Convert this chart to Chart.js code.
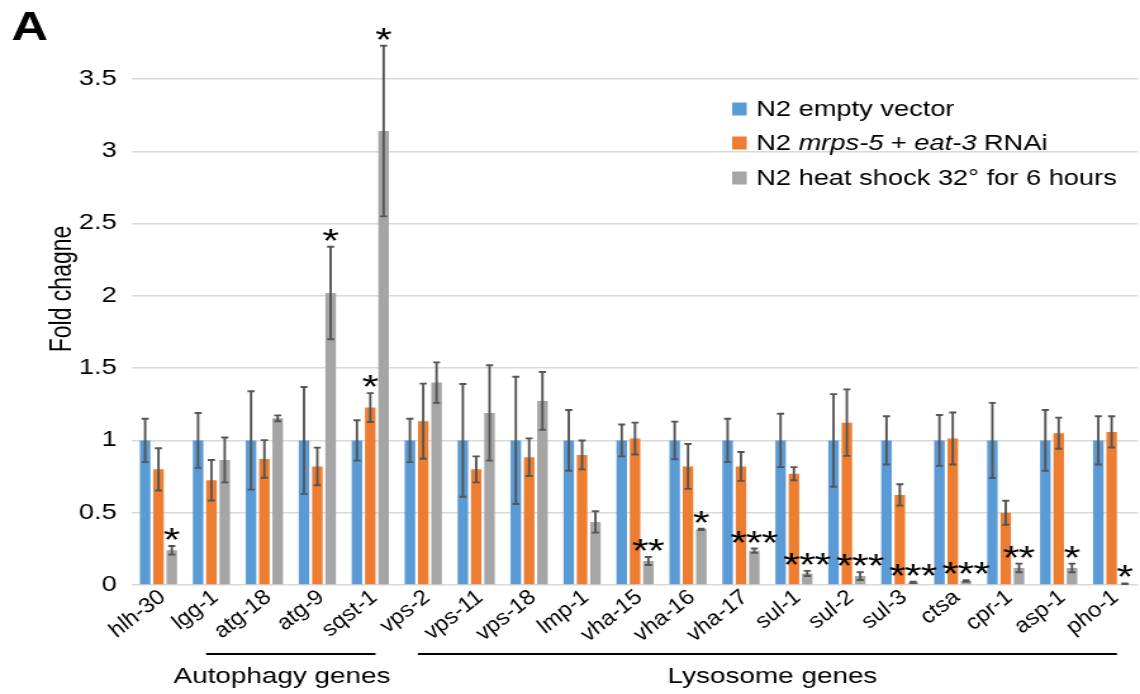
<!DOCTYPE html>
<html>
<head>
<meta charset="utf-8">
<script src="https://cdn.jsdelivr.net/npm/chart.js@4/dist/chart.umd.min.js"></script>
<style>
  html, body { margin: 0; padding: 0; background: #ffffff; }
</style>
</head>
<body>
<canvas id="c" width="900" height="694" style="display:block;width:1140px;height:694px"></canvas>
<script>
// ---- data ----
const genes = ['hlh-30','lgg-1','atg-18','atg-9','sqst-1','vps-2','vps-11','vps-18','lmp-1','vha-15','vha-16','vha-17','sul-1','sul-2','sul-3','ctsa','cpr-1','asp-1','pho-1'];
const seriesNames = ['N2 empty vector', 'N2 mrps-5 + eat-3 RNAi', 'N2 heat shock 32° for 6 hours'];
const emptyVector = [1,1,1,1,1,1,1,1,1,1,1,1,1,1,1,1,1,1,1];
const emptyVectorErr = [0.15,0.19,0.34,0.37,0.14,0.15,0.39,0.44,0.21,0.11,0.13,0.15,0.185,0.32,0.167,0.176,0.26,0.21,0.167];
const rnai = [0.80,0.725,0.872,0.82,1.227,1.133,0.80,0.884,0.90,1.013,0.82,0.82,0.77,1.123,0.623,1.013,0.50,1.05,1.059];
const rnaiErr = [0.146,0.14,0.13,0.13,0.10,0.26,0.09,0.13,0.10,0.11,0.155,0.10,0.045,0.23,0.074,0.18,0.083,0.108,0.108];
const heatShock = [0.24,0.865,1.153,2.02,3.14,1.40,1.19,1.273,0.436,0.166,0.385,0.237,0.08,0.062,0.018,0.028,0.118,0.118,0.009];
const heatShockErr = [0.03,0.155,0.02,0.32,0.59,0.14,0.33,0.20,0.074,0.028,0.005,0.015,0.018,0.027,0.005,0.006,0.03,0.03,0.002];
const emptyStars = ['','','','','','','','','','','','','','','','','','',''];
const rnaiStars = ['','','','','*','','','','','','','','','','','','','',''];
const heatStars = ['*','','','*','*','','','','','**','*','***','***','***','***','***','**','*','*'];
const yTicks = [0,0.5,1,1.5,2,2.5,3,3.5];
const groups = [
  {label: 'Autophagy genes', from: 'lgg-1', to: 'sqst-1'},
  {label: 'Lysosome genes', from: 'vps-2', to: 'pho-1'}
];

const colors = ['#5B9BD5', '#ED7D31', '#A5A5A5'];
const FONT = '"Liberation Sans", Arial, Helvetica, sans-serif';
const errs = [emptyVectorErr, rnaiErr, heatShockErr];
const stars = [emptyStars, rnaiStars, heatStars];

const overlay = {
  id: 'overlay',
  afterDatasetsDraw(chart) {
    const ctx = chart.ctx;
    const ys = chart.scales.y;
    ctx.save();
    // error bars
    ctx.strokeStyle = '#555555';
    ctx.lineWidth = 1.9;
    chart.data.datasets.forEach((ds, i) => {
      const meta = chart.getDatasetMeta(i);
      meta.data.forEach((bar, j) => {
        const v = ds.data[j], e = errs[i][j];
        const yt = ys.getPixelForValue(v + e);
        const yb = ys.getPixelForValue(Math.max(0, v - e));
        const x = bar.x, hw = 2.8;
        ctx.beginPath();
        ctx.moveTo(x, yt); ctx.lineTo(x, yb);
        ctx.moveTo(x - hw, yt); ctx.lineTo(x + hw, yt);
        ctx.moveTo(x - hw, yb); ctx.lineTo(x + hw, yb);
        ctx.stroke();
      });
    });
    // significance stars
    ctx.fillStyle = '#000';
    ctx.font = '34px ' + FONT;
    ctx.textAlign = 'center';
    ctx.textBaseline = 'alphabetic';
    chart.data.datasets.forEach((ds, i) => {
      const meta = chart.getDatasetMeta(i);
      meta.data.forEach((bar, j) => {
        const s = stars[i][j];
        if (!s) return;
        const yt = ys.getPixelForValue(ds.data[j] + errs[i][j]);
        const n = s.length, step = 12.4;
        for (let k = 0; k < n; k++) {
          const x = bar.x + (k - (n - 1) / 2) * step;
          ctx.fillText('*', x, yt + 5);
        }
      });
    });
    ctx.restore();
  },
  afterDraw(chart) {
    const ctx = chart.ctx;
    const xs = chart.scales.x;
    ctx.save();
    ctx.fillStyle = '#000';
    // panel letter
    ctx.font = 'bold 40px ' + FONT;
    ctx.textAlign = 'left';
    ctx.textBaseline = 'alphabetic';
    ctx.fillText('A', 9, 40);
    // y axis title
    ctx.save();
    ctx.translate(50, 289);
    ctx.rotate(-Math.PI / 2);
    ctx.font = '23px ' + FONT;
    ctx.textAlign = 'center';
    ctx.textBaseline = 'middle';
    ctx.fillText('Fold chagne', 0, 0);
    ctx.restore();
    // group brackets
    const cw = xs.getPixelForValue(1) - xs.getPixelForValue(0);
    ctx.strokeStyle = '#000';
    ctx.lineWidth = 2;
    ctx.font = '22px ' + FONT;
    ctx.textAlign = 'center';
    groups.forEach((g, k) => {
      const a = xs.getPixelForValue(genes.indexOf(g.from));
      const b = xs.getPixelForValue(genes.indexOf(g.to));
      const x1 = a - cw * 0.10, x2 = b + cw * 0.10;
      ctx.beginPath();
      ctx.moveTo(x1, 654); ctx.lineTo(x2, 654);
      ctx.stroke();
      ctx.fillText(g.label, (x1 + x2) / 2 + (k === 0 ? -7 : 4), 683);
    });
    // legend
    const lx = 578, tx = 597, rowsY = [109, 143, 178];
    ctx.textAlign = 'left';
    ctx.textBaseline = 'middle';
    const parts = [
      [['N2 empty vector', false]],
      [['N2 ', false], ['mrps-5', true], [' + ', false], ['eat-3', true], [' RNAi', false]],
      [['N2 heat shock 32° for 6 hours', false]]
    ];
    parts.forEach((p, i) => {
      ctx.fillStyle = colors[i];
      ctx.fillRect(lx, rowsY[i] - 6.5, 11.5, 13);
      ctx.fillStyle = '#000';
      let x = tx;
      p.forEach(([t, it]) => {
        ctx.font = (it ? 'italic ' : '') + '21.5px ' + FONT;
        ctx.fillText(t, x, rowsY[i] + 1);
        x += ctx.measureText(t).width;
      });
    });
    ctx.restore();
  }
};

const chart = new Chart(document.getElementById('c'), {
  type: 'bar',
  data: {
    labels: genes,
    datasets: [
      {label: seriesNames[0], data: emptyVector, backgroundColor: colors[0]},
      {label: seriesNames[1], data: rnai, backgroundColor: colors[1]},
      {label: seriesNames[2], data: heatShock, backgroundColor: colors[2]}
    ]
  },
  options: {
    responsive: false,
    animation: false,
    devicePixelRatio: 1,
    categoryPercentage: 0.755,
    barPercentage: 0.79,
    layout: {padding: {top: 79, right: 1.5, left: 0, bottom: 0}},
    plugins: {legend: {display: false}, tooltip: {enabled: false}, title: {display: false}},
    scales: {
      x: {
        grid: {display: false, drawTicks: false},
        border: {display: false},
        ticks: {
          color: '#000',
          font: {family: FONT, size: 20, style: 'italic'},
          minRotation: 45, maxRotation: 45,
          padding: 1,
          labelOffset: 3,
          autoSkip: false
        },
        afterFit(scale) { scale.height = 109; }
      },
      y: {
        min: 0, max: 3.5,
        afterBuildTicks(scale) { scale.ticks = yTicks.map(v => ({value: v})); },
        ticks: {
          color: '#000',
          font: {family: FONT, size: 21.5},
          padding: 12,
          callback: (v) => String(v)
        },
        grid: {color: '#d9d9d9', lineWidth: 1.5, drawTicks: false},
        border: {display: false},
        afterFit(scale) { scale.width = 104.2; }
      }
    }
  },
  plugins: [overlay]
});
</script>
</body>
</html>
